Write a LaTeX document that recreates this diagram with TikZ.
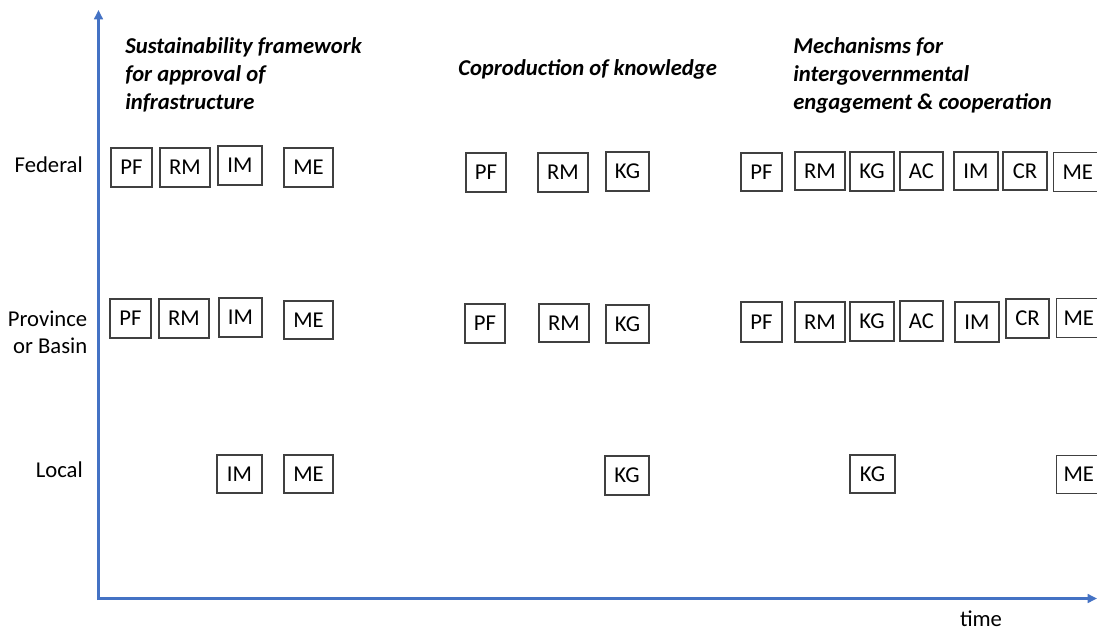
\documentclass[tikz,border=0pt]{standalone}
\usepackage{fontspec}
\setmainfont{Carlito}
\usetikzlibrary{arrows.meta}
\definecolor{axisblue}{HTML}{4472C4}
\newcommand\mybox[6]{\node[box, minimum width={0.75pt*(#4-#2)}, minimum height={0.75pt*(#5-#3)}] (#1) at ({(#2+#4)/2},{(#3+#5)/2}) {#6};}
\begin{document}
\begin{tikzpicture}[x=0.75pt,y=-0.75pt,
  box/.style={draw=black!75, line width=0.8pt, inner sep=0pt, fill=white, font=\fontsize{17}{20}\selectfont},
  lvl/.style={font=\fontsize{17}{20}\selectfont, inner sep=0pt},
  ttl/.style={font=\fontsize{17}{21}\selectfont\bfseries\itshape, inner sep=0pt, align=left, anchor=base west},
  axis/.style={draw=axisblue, line width=2.2pt, -{Triangle[length=7pt,width=6.5pt]}}]
\useasboundingbox (0,0) rectangle (1097,632);
\clip (0,0) rectangle (1097,632);
% axes
\coordinate (origin) at (98.5,598.5);
\coordinate (ytop) at (98.5,10);
\coordinate (xend) at (1097,598.5);
\draw[axis] (98.5,600) -- (ytop);
\draw[axis] (97,598.5) -- (xend);
% level labels
\node[lvl, anchor=east] (fed) at (83,165) {Federal};
\node[lvl, anchor=east, align=right] (prov) at (87.5,332) {Province\\or Basin};
\node[lvl, anchor=east] (loc) at (83,470) {Local};
\node[lvl] (time) at (981,619) {time};
% titles
\node[ttl] (t1) at (125,109) {Sustainability framework\\for approval of\\infrastructure};
\node[ttl] (t2) at (458,75) {Coproduction of knowledge};
\node[ttl] (t3) at (793,109) {Mechanisms for\\intergovernmental\\engagement \& cooperation};
% group 1
\mybox{f1pf}{111}{148}{152}{187}{PF}
\mybox{f1rm}{160}{148}{210}{187}{RM}
\mybox{f1im}{218}{146}{262}{185}{IM}
\mybox{f1me}{284}{148}{333}{187}{ME}
\mybox{p1pf}{110}{299}{151}{338}{PF}
\mybox{p1rm}{159}{299}{209}{338}{RM}
\mybox{p1im}{219}{298}{262}{337}{IM}
\mybox{p1me}{284}{301}{333}{339}{ME}
\mybox{l1im}{217}{455}{262}{493}{IM}
\mybox{l1me}{284}{455}{333}{493}{ME}
% group 2
\mybox{f2pf}{466}{153}{506}{192}{PF}
\mybox{f2rm}{538}{153}{588}{192}{RM}
\mybox{f2kg}{606}{152}{649}{191}{KG}
\mybox{p2pf}{465}{304}{505}{343}{PF}
\mybox{p2rm}{539}{304}{589}{342}{RM}
\mybox{p2kg}{606}{305}{649}{343}{KG}
\mybox{l2kg}{605}{456}{649}{495}{KG}
% group 3
\mybox{f3pf}{741}{153}{782}{191}{PF}
\mybox{f3rm}{795}{152}{845}{190}{RM}
\mybox{f3kg}{850}{152}{894}{191}{KG}
\mybox{f3ac}{900}{152}{943}{190}{AC}
\mybox{f3im}{954}{152}{998}{190}{IM}
\mybox{f3cr}{1003}{152}{1047}{190}{CR}
\node[box, anchor=north west, minimum width={0.75pt*50}, minimum height={0.75pt*39}, text width={0.75pt*44}, align=left] (f3me) at (1053,152) {\hspace{4.5pt}ME};
\mybox{p3pf}{741}{302}{782}{342}{PF}
\mybox{p3rm}{795}{302}{845}{342}{RM}
\mybox{p3kg}{850}{302}{894}{341}{KG}
\mybox{p3ac}{900}{301}{943}{341}{AC}
\mybox{p3im}{955}{302}{999}{342}{IM}
\mybox{p3cr}{1006}{299}{1049}{338}{CR}
\node[box, anchor=north west, minimum width={0.75pt*50}, minimum height={0.75pt*39}, text width={0.75pt*44}, align=left] (p3me) at (1056,298) {\hspace{3pt}ME};
\mybox{l3kg}{850}{455}{895}{493}{KG}
\node[box, anchor=north west, minimum width={0.75pt*50}, minimum height={0.75pt*38}, text width={0.75pt*44}, align=left] (l3me) at (1056,455) {\hspace{3pt}ME};
\end{tikzpicture}
\end{document}
